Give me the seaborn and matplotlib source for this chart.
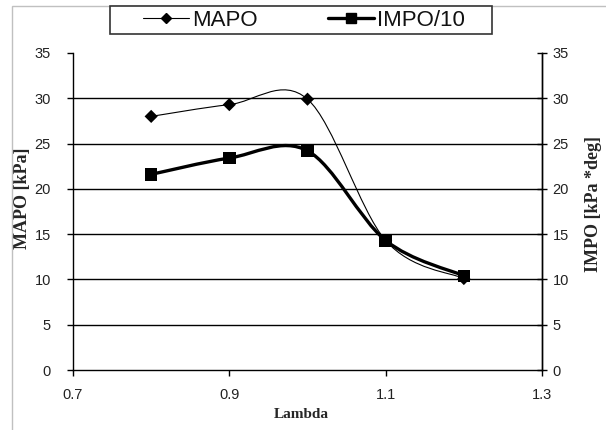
import numpy as np
import pandas as pd
import matplotlib
matplotlib.use("Agg")
import matplotlib.pyplot as plt
import seaborn as sns
from matplotlib.path import Path
from matplotlib.patches import PathPatch, Rectangle
from matplotlib.lines import Line2D

# ---- data ----
lam = [0.8, 0.9, 1.0, 1.1, 1.2]
mapo = [28.0, 29.3, 29.9, 14.3, 10.1]
impo10 = [21.6, 23.4, 24.2, 14.3, 10.4]
x_ticks = [0.7, 0.9, 1.1, 1.3]
y_ticks = [0, 5, 10, 15, 20, 25, 30, 35]

sns.set_theme(style="white")
plt.rcParams['font.family'] = ['Liberation Sans', 'DejaVu Sans']

W, H = 606, 430
fig = plt.figure(figsize=(W / 100, H / 100), dpi=100)
ax = fig.add_axes([73 / W, 1 - 370 / H, (542 - 73) / W, (370 - 53) / H])

df = pd.DataFrame({"Lambda": lam * 2,
                   "val": mapo + impo10,
                   "series": ["MAPO"] * 5 + ["IMPO/10"] * 5})


def smooth_path(xs, ys):
    # Excel-style smoothed line: cubic Bezier through points (Catmull-Rom tangents)
    pts = np.column_stack([xs, ys])
    n = len(pts)
    verts = [tuple(pts[0])]
    codes = [Path.MOVETO]
    for i in range(n - 1):
        p0 = pts[i - 1] if i > 0 else pts[i]
        p1 = pts[i]
        p2 = pts[i + 1]
        p3 = pts[i + 2] if i + 2 < n else pts[i + 1]
        c1 = p1 + (p2 - p0) / 6.0
        c2 = p2 - (p3 - p1) / 6.0
        verts += [tuple(c1), tuple(c2), tuple(p2)]
        codes += [Path.CURVE4] * 3
    return Path(verts, codes)


for y in y_ticks[1:-1]:
    ax.axhline(y, color="black", lw=1.0, zorder=1)

ax.add_patch(PathPatch(smooth_path(lam, mapo), fill=False, color="black", lw=0.8, zorder=3))
ax.add_patch(PathPatch(smooth_path(lam, impo10), fill=False, color="black", lw=2.4, zorder=3))

sns.scatterplot(data=df, x="Lambda", y="val", style="series", hue="series",
                markers={"MAPO": "D", "IMPO/10": "s"},
                palette={"MAPO": "black", "IMPO/10": "black"},
                s=60, edgecolor="black", linewidth=0,
                legend=False, ax=ax, zorder=4)
coll = ax.collections[-1]
coll.set_sizes(np.array([45] * 5 + [80] * 5))

ax.set_xlim(0.7, 1.3)
ax.set_ylim(0, 35)
ax.set_xticks(x_ticks)
ax.set_xticklabels([f"{v:.1f}" for v in x_ticks])
ax.set_yticks(y_ticks)
ax.set_yticklabels([str(v) for v in y_ticks])
ax.grid(False)
for s in ["left", "bottom", "right"]:
    ax.spines[s].set_visible(True)
    ax.spines[s].set_color("black")
    ax.spines[s].set_linewidth(1.0)
ax.spines["top"].set_visible(False)
ax.tick_params(axis="y", direction="out", length=4, width=1, color="black",
               labelsize=10.5, labelcolor="#222222", pad=12, left=True)
ax.tick_params(axis="x", direction="out", length=4, width=1, color="black",
               labelsize=10.5, labelcolor="#222222", pad=9, bottom=True)

ax2 = ax.twinx()
ax2.set_ylim(0, 35)
ax2.set_yticks(y_ticks)
ax2.set_yticklabels([str(v) for v in y_ticks])
ax2.spines["top"].set_visible(False)
ax2.spines["left"].set_visible(False)
ax2.spines["bottom"].set_visible(False)
ax2.spines["right"].set_color("black")
ax2.spines["right"].set_linewidth(1.0)
ax2.tick_params(axis="y", direction="inout", length=7, width=1, color="black",
                labelsize=10.5, labelcolor="#222222", pad=4, right=True)
ax2.grid(False)

serif = ['Liberation Serif', 'DejaVu Serif']
ax.set_ylabel("MAPO [kPa]", family=serif, fontweight="bold", fontsize=13)
ax2.set_ylabel("IMPO [kPa *deg]", family=serif, fontweight="bold", fontsize=13,
               rotation=90)
ax.set_xlabel("Lambda", family=serif, fontweight="bold", fontsize=11)
ax_w = 542 - 73
ax_h = 370 - 53
ax.yaxis.set_label_coords((23 - 73) / ax_w, (370 - 198) / ax_h)
ax2.yaxis.set_label_coords((594 - 73) / ax_w, (370 - 204) / ax_h)
ax.xaxis.set_label_coords((301 - 73) / ax_w, -(414 - 370) / ax_h)
ax.yaxis.label.set_va("center")
ax2.yaxis.label.set_va("center")
ax.xaxis.label.set_va("center")

# figure frame (light gray)
fig.patches.append(Rectangle((12 / W, -0.1), 1.2, 1 - 6 / H + 0.1, transform=fig.transFigure,
                             fill=False, edgecolor="#c0c0c0", lw=1.0, zorder=0))
# legend box
fig.patches.append(Rectangle((110 / W, 1 - 34 / H), (492 - 110) / W, 28 / H,
                             transform=fig.transFigure, facecolor="white",
                             edgecolor="#333333", lw=1.2, zorder=5))
handles = [Line2D([], [], color="black", lw=0.8, marker="D", markersize=5),
           Line2D([], [], color="black", lw=2.4, marker="s", markersize=6.5)]
leg = fig.legend(handles, ["MAPO", "IMPO/10"], loc="center",
                 bbox_to_anchor=(304 / W, 1 - 20 / H), ncol=2, frameon=False,
                 fontsize=16, handlelength=2.05, columnspacing=3.2, handletextpad=0.12)
leg.set_zorder(6)
for t in leg.get_texts():
    t.set_color("#111111")

fig.savefig("out.png", dpi=100)
